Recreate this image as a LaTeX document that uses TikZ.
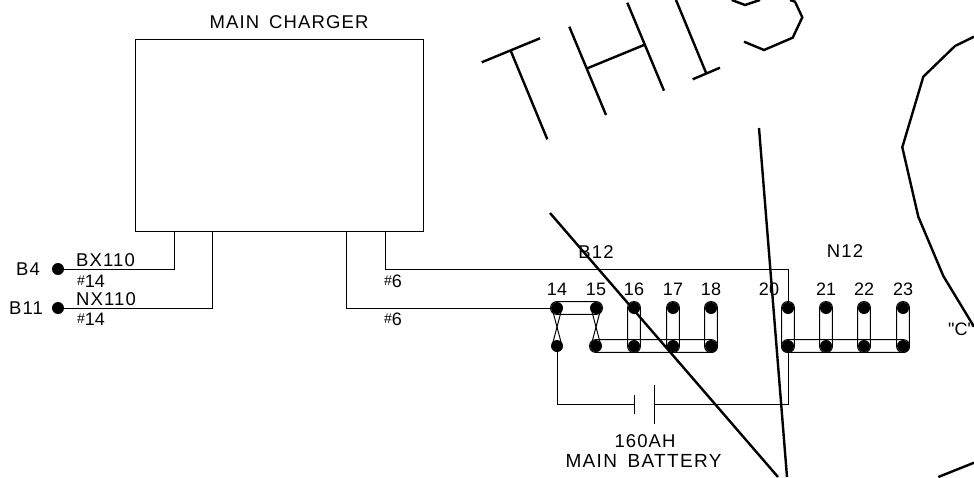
\documentclass[tikz,border=0pt]{standalone}
\usepackage{fontspec}
\setmainfont{Liberation Sans}
\newfontfamily\cadfont[LetterSpace=6, WordSpace=1.6]{Liberation Sans}
\newfontfamily\numfont{Liberation Sans}
\newcommand{\gauge}[1]{{\fontsize{14}{14}\selectfont\raisebox{1.5pt}{\#}}#1}
\usetikzlibrary{fit}
\tikzset{
  wire/.style={line width=1pt},
  sketch/.style={line width=2.4pt, line join=miter},
  terminal/.style={circle, fill=black, inner sep=0pt, minimum size=12pt},
  jumper/.style={draw, line width=1pt, rectangle, rounded corners=6pt, inner sep=0.2pt},
  lbl/.style={inner sep=0pt, font=\cadfont\fontsize{18.5}{18.5}\selectfont},
  smalllbl/.style={inner sep=0pt, font=\numfont\fontsize{18}{18}\selectfont}
}
\begin{document}
\begin{tikzpicture}[x=1pt, y=-1pt]
  \useasboundingbox (0, 0) rectangle (974, 477);

  \node[draw, wire, minimum width=288pt, minimum height=192pt, inner sep=0pt, outer sep=0pt] (charger) at (279, 135) {};
  \node[lbl] (chargerlabel) at (289, 22) {MAIN CHARGER};

  \foreach \num/\xpos in {14/557, 15/596, 16/634, 17/673, 18/711, 20/788, 21/826, 22/864, 23/903}{
    \node[terminal] (t\num) at (\xpos, 308) {};
    \node[terminal] (b\num) at (\xpos, 346) {};
  }
  \foreach \num/\xpos in {14/557, 15/596, 16/634, 17/673, 18/711, 20/769, 21/826, 22/864, 23/903}{
    \node[smalllbl] (n\num) at (\xpos, 289) {\num};
  }
  \foreach \num in {16, 17, 18, 20, 21, 22, 23}{
    \node[jumper, fit=(t\num)(b\num)] (loop\num) {};
  }
  \node[jumper, fit=(t14)(t15)] (loopA) {};
  \node[jumper, fit=(b15)(b18)] (loopB) {};
  \node[jumper, fit=(b20)(b23)] (loopN) {};
  \foreach \num in {14, 15}{
    \draw[wire] ([xshift=-5pt]t\num.center) -- ([xshift=5pt]b\num.center);
    \draw[wire] ([xshift=5pt]t\num.center) -- ([xshift=-5pt]b\num.center);
  }

  \node[terminal] (b4) at (58, 269) {};
  \node[terminal] (b11) at (58, 308) {};
  \node[lbl] (b4label) at (28, 269) {B4};
  \node[lbl] (b11label) at (26, 308) {B11};

  \coordinate (lead1) at (174, 231);
  \coordinate (lead2) at (212, 231);
  \coordinate (lead3) at (346, 231);
  \coordinate (lead4) at (385, 231);
  \draw[wire] (lead1) |- (b4);
  \draw[wire] (lead2) |- (b11);
  \draw[wire] (lead3) |- (t14);
  \coordinate (corner) at (788, 269);
  \draw[wire] (lead4) |- (corner) -- (t20);

  \coordinate (plateL) at (634, 404);
  \coordinate (plateR) at (654, 404);
  \draw[wire] (b14) |- (plateL);
  \draw[wire] (b20) |- (plateR);
  \draw[wire] ([yshift=-10pt]plateL) -- ([yshift=9pt]plateL);
  \draw[wire] ([yshift=-20pt]plateR) -- ([yshift=19pt]plateR);

  \node[lbl, anchor=base west] (bxlabel) at (76, 266) {BX110};
  \node[lbl, anchor=base west] (nxlabel) at (76, 305) {NX110};
  \node[smalllbl, anchor=base west] (awg1) at (77, 287) {\gauge{14}};
  \node[smalllbl, anchor=base west] (awg2) at (77, 325) {\gauge{14}};
  \node[smalllbl, anchor=base west] (awg3) at (384, 287) {\gauge{6}};
  \node[smalllbl, anchor=base west] (awg4) at (384, 325) {\gauge{6}};

  \node[lbl] (b12label) at (596, 252) {B12};
  \node[lbl] (n12label) at (845, 251) {N12};
  \node[smalllbl] (cmark) at (961, 329) {"C"};
  \node[lbl] (ahlabel) at (645, 441) {160AH};
  \node[lbl, font=\cadfont\fontsize{19}{19}\selectfont\addfontfeature{LetterSpace=7}] (battlabel) at (643.5, 461) {MAIN BATTERY};

  % rough sketch over the page
  \draw[sketch] (481.7, 62.3) -- (540, 38.3);
  \draw[sketch] (510.7, 50.7) -- (547.3, 139.3);
  \draw[sketch] (569.3, 26.7) -- (606, 115);
  \draw[sketch] (627.3, 2.7) -- (664, 90.7);
  \draw[sketch] (587.3, 68.3) -- (644, 45);
  \draw[sketch] (676, 0) -- (706, 72.7);
  \draw[sketch] (692.7, 79.3) -- (720, 67.7);
  \draw[sketch] (744, 41.7) -- (764, 50) -- (792.7, 37.7) -- (802.3, 17.3) -- (795, 1.7) -- (790, 0);
  \draw[sketch] (731.7, 0) -- (745, 5) -- (760, 0);
  \draw[sketch] (550, 213) -- (778, 477);
  \draw[sketch] (759, 128) -- (787, 477);
  \draw[sketch] (974, 36.7) -- (955, 46) -- (923.3, 76.7) -- (902.3, 147.3) -- (918.3, 216.7) -- (943.3, 276) -- (974, 326.7);
  \draw[sketch] (938.3, 477) -- (974, 462.7);
\end{tikzpicture}
\end{document}
